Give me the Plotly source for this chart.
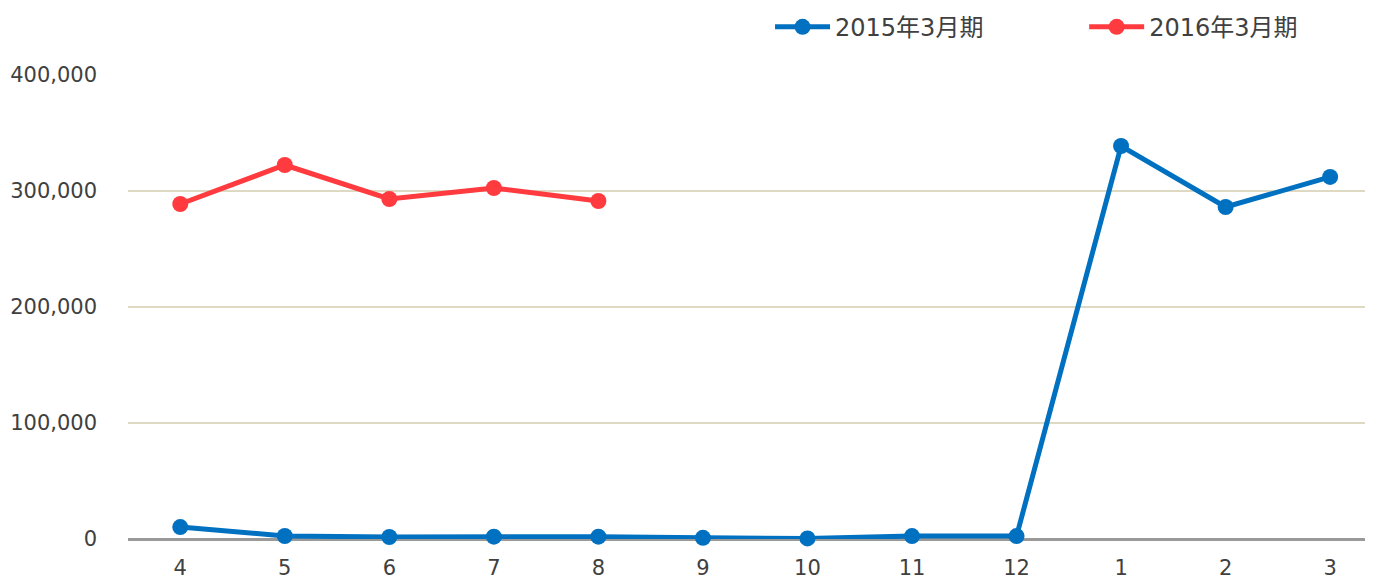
import plotly.graph_objects as go

months = ["4", "5", "6", "7", "8", "9", "10", "11", "12", "1", "2", "3"]
fy2015 = [10300, 2600, 1700, 2000, 2000, 1000, 500, 2500, 2500, 338800, 286200, 312100]
fy2016 = [288800, 322400, 293100, 302600, 291400]
series_names = ["2015年3月期", "2016年3月期"]
colors = ["#0070C0", "#FF3B3F"]

FONT = "DejaVu Sans, Verdana, Noto Sans CJK JP, sans-serif"

fig = go.Figure()
fig.add_trace(go.Scatter(
    x=months, y=fy2015, name=series_names[0], mode="lines+markers",
    line=dict(color=colors[0], width=5), marker=dict(size=16, color=colors[0]),
    cliponaxis=False, legend="legend"))
fig.add_trace(go.Scatter(
    x=months[:len(fy2016)], y=fy2016, name=series_names[1], mode="lines+markers",
    line=dict(color=colors[1], width=5), marker=dict(size=16, color=colors[1]),
    cliponaxis=False, legend="legend2"))

legend_common = dict(orientation="h", yanchor="middle", xanchor="left",
                     font=dict(family=FONT, size=24, color="#404040"),
                     bgcolor="rgba(0,0,0,0)", itemwidth=55)

fig.update_layout(
    width=1365, height=571,
    margin=dict(l=120, r=0, t=67, b=40, autoexpand=False),
    paper_bgcolor="white", plot_bgcolor="white",
    font=dict(family=FONT, size=21, color="#404040"),
    showlegend=True,
    legend=dict(x=0.5157, y=1.103, **legend_common),
    legend2=dict(x=0.768, y=1.103, **legend_common),
    xaxis=dict(type="category", range=[-0.5, 11.41], showgrid=False,
               showline=False, zeroline=False, ticks="", ticklabelstandoff=14,
               tickfont=dict(size=21, color="#404040")),
    yaxis=dict(range=[0, 400000], dtick=100000, tickformat=",d",
               showgrid=True, gridcolor="#DDD9C3", gridwidth=2,
               zeroline=True, zerolinecolor="#999999", zerolinewidth=3,
               showline=False, ticks="", ticklabelstandoff=30,
               tickfont=dict(size=21, color="#404040")),
)

fig.write_html("out.html")
